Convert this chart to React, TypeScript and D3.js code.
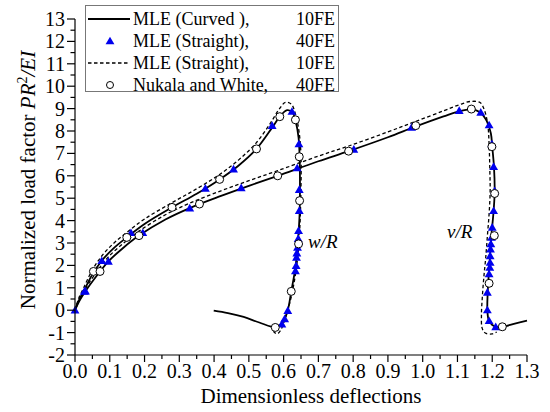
import * as d3 from "d3";

// tick values / labels
const xTicks = [0, 0.1, 0.2, 0.3, 0.4, 0.5, 0.6, 0.7, 0.8, 0.9, 1.0, 1.1, 1.2, 1.3];
const xTickLabels = ["0.0", "0.1", "0.2", "0.3", "0.4", "0.5", "0.6", "0.7", "0.8", "0.9", "1.0", "1.1", "1.2", "1.3"];
const yTicks = [-2, -1, 0, 1, 2, 3, 4, 5, 6, 7, 8, 9, 10, 11, 12, 13];

// MLE (Curved), 10FE  - solid
const wSolid: [number, number][] = [
  [0, 0], [0.01, 0.4], [0.025, 0.85], [0.05, 1.6], [0.077, 2.21], [0.11, 2.75], [0.149, 3.25],
  [0.2, 3.85], [0.279, 4.59], [0.35, 5.2], [0.416, 5.84], [0.47, 6.45], [0.522, 7.2], [0.567, 8.15],
  [0.589, 8.64], [0.61, 8.93], [0.626, 8.82], [0.636, 8.35], [0.643, 7.7], [0.646, 6.85],
  [0.647, 5.8], [0.646, 4.3], [0.642, 3.25], [0.634, 1.91], [0.622, 0.84], [0.612, 0.0],
  [0.6, -0.47], [0.585, -0.72], [0.576, -0.77], [0.53, -0.55], [0.485, -0.3], [0.44, -0.13], [0.399, -0.02],
];
const vSolid: [number, number][] = [
  [0, 0], [0.012, 0.4], [0.03, 0.85], [0.072, 1.73], [0.096, 2.18], [0.14, 2.8], [0.184, 3.33],
  [0.26, 4.05], [0.33, 4.56], [0.42, 5.1], [0.5, 5.55], [0.583, 6.0], [0.7, 6.65], [0.787, 7.1],
  [0.9, 7.72], [0.98, 8.2], [1.06, 8.65], [1.105, 8.88], [1.14, 8.96], [1.165, 8.84], [1.184, 8.45],
  [1.196, 7.9], [1.2, 7.3], [1.205, 6.4], [1.207, 5.3], [1.204, 4.44], [1.198, 3.4], [1.194, 2.5],
  [1.19, 1.6], [1.187, 0.8], [1.186, 0.0], [1.19, -0.45], [1.2, -0.66], [1.215, -0.74],
  [1.229, -0.74], [1.265, -0.6], [1.3, -0.47],
];

// MLE (Straight), 10FE - dashed
const wDashed: [number, number][] = [
  [0, 0], [0.01, 0.5], [0.025, 1.0], [0.05, 1.8], [0.077, 2.42], [0.11, 2.97], [0.149, 3.47],
  [0.2, 4.07], [0.279, 4.8], [0.35, 5.42], [0.416, 6.06], [0.47, 6.7], [0.52, 7.45], [0.56, 8.3],
  [0.585, 8.92], [0.605, 9.28], [0.622, 9.2], [0.635, 8.7], [0.645, 7.9], [0.65, 6.9],
  [0.65, 5.5], [0.648, 4.2], [0.644, 3.0], [0.636, 1.8], [0.622, 0.6], [0.605, -0.35],
  [0.592, -0.88], [0.582, -1.05], [0.572, -0.97], [0.569, -0.75],
];
const vDashed: [number, number][] = [
  [0, 0], [0.012, 0.48], [0.03, 0.97], [0.072, 1.92], [0.096, 2.38], [0.14, 3.0], [0.184, 3.53],
  [0.26, 4.26], [0.33, 4.78], [0.42, 5.33], [0.5, 5.78], [0.583, 6.23], [0.7, 6.88], [0.787, 7.33],
  [0.9, 7.96], [0.98, 8.43], [1.06, 8.9], [1.105, 9.17], [1.138, 9.32], [1.165, 9.27],
  [1.177, 8.95], [1.187, 8.3], [1.191, 7.4], [1.193, 6.3], [1.194, 5.3], [1.191, 4.3],
  [1.186, 3.3], [1.181, 2.3], [1.176, 1.5], [1.172, 0.7], [1.169, -0.2], [1.171, -0.8],
  [1.18, -1.02], [1.2, -1.06], [1.213, -0.97],
];

// MLE (Straight), 40FE - triangles
const wTri: [number, number][] = [
  [0, 0], [0.027, 0.84], [0.077, 2.21], [0.161, 3.46], [0.375, 5.44], [0.456, 6.3], [0.567, 8.24],
  [0.624, 8.87], [0.644, 7.42], [0.645, 5.38], [0.645, 4.45], [0.643, 3.55], [0.642, 3.2],
  [0.64, 2.8], [0.638, 2.55], [0.637, 2.36], [0.636, 1.99], [0.634, 1.76], [0.612, -0.02],
  [0.603, -0.39], [0.595, -0.62],
];
const vTri: [number, number][] = [
  [0.03, 0.85], [0.096, 2.18], [0.195, 3.46], [0.33, 4.56], [0.478, 5.46], [0.639, 6.35],
  [0.802, 7.18], [0.968, 8.16], [1.105, 8.91], [1.167, 8.83], [1.191, 8.27], [1.199, 7.42],
  [1.204, 6.41], [1.207, 5.33], [1.204, 4.44], [1.2, 3.7], [1.198, 3.25], [1.196, 2.96],
  [1.195, 2.73], [1.194, 2.43], [1.194, 2.13], [1.193, 1.91], [1.191, 1.62], [1.186, 0.8],
  [1.186, 0.01], [1.191, -0.47], [1.21, -0.74],
];

// Nukala and White, 40FE - circles
const wCirc: [number, number][] = [
  [0.053, 1.73], [0.149, 3.25], [0.279, 4.59], [0.416, 5.84], [0.522, 7.2], [0.589, 8.64],
  [0.634, 8.5], [0.645, 6.85], [0.646, 4.89], [0.643, 2.96], [0.622, 0.84], [0.576, -0.77],
];
const vCirc: [number, number][] = [
  [0.072, 1.73], [0.184, 3.33], [0.358, 4.74], [0.583, 6.0], [0.787, 7.1], [0.98, 8.24],
  [1.14, 8.98], [1.199, 7.3], [1.207, 5.21], [1.206, 3.33], [1.191, 1.2], [1.229, -0.74],
];

const legendRows = [
  { name: "MLE (Curved ),", fe: "10FE", kind: "solid" },
  { name: "MLE (Straight),", fe: "40FE", kind: "tri" },
  { name: "MLE (Straight),", fe: "10FE", kind: "dash" },
  { name: "Nukala and White,", fe: "40FE", kind: "circ" },
];

const FONT = "Liberation Serif, Times New Roman, serif";
const BLUE = "#0000ee";

export default function App() {
  const width = 550;
  const height = 412;

  const x = d3.scaleLinear().domain([0, 1.3]).range([75, 527]);
  const y = d3.scaleLinear().domain([-2, 13]).range([355, 19]);

  const line = d3.line<[number, number]>()
    .x(d => x(d[0]))
    .y(d => y(d[1]))
    .curve(d3.curveCatmullRom.alpha(0.5));

  const triPath = d3.symbol().type(d3.symbolTriangle).size(34)() as string;

  const xMinor = d3.range(0.05, 1.3, 0.1);
  const yMinor = d3.range(-1.5, 13, 1);

  const txt = { fontFamily: FONT };

  return (
    <svg width={width} height={height} style={{ position: "absolute", left: 0, top: 0, background: "#fff", fontFamily: FONT }}>
      {/* curves */}
      <g fill="none" stroke="#000">
        <path d={line(wDashed) as string} strokeWidth={1.3} strokeDasharray="3.5,2.5" />
        <path d={line(vDashed) as string} strokeWidth={1.3} strokeDasharray="3.5,2.5" />
        <path d={line(wSolid) as string} strokeWidth={1.8} />
        <path d={line(vSolid) as string} strokeWidth={1.8} />
      </g>

      {/* triangles */}
      <g fill={BLUE}>
        {[...wTri, ...vTri].map((d, i) => (
          <path key={i} d={triPath} transform={`translate(${x(d[0])},${y(d[1]) + 0.8})`} />
        ))}
      </g>

      {/* circles */}
      <g fill="#fff" stroke="#000" strokeWidth={1}>
        {[...wCirc, ...vCirc].map((d, i) => (
          <circle key={i} cx={x(d[0])} cy={y(d[1])} r={4} />
        ))}
      </g>

      {/* curve labels */}
      <text x={308} y={248} fontSize={19} fontStyle="italic" style={txt}>w/R</text>
      <text x={447} y={238} fontSize={19} fontStyle="italic" style={txt}>v/R</text>

      {/* axes */}
      <g stroke="#000" strokeWidth={1.2}>
        <line x1={x(0)} x2={x(0)} y1={y(-2)} y2={y(13)} />
        <line x1={x(0)} x2={x(1.3)} y1={y(-2)} y2={y(-2)} />
        {yTicks.map(t => (
          <line key={"yt" + t} x1={x(0) - 8} x2={x(0)} y1={y(t)} y2={y(t)} />
        ))}
        {yMinor.map(t => (
          <line key={"ym" + t} x1={x(0) - 4.5} x2={x(0)} y1={y(t)} y2={y(t)} />
        ))}
        {xTicks.map(t => (
          <line key={"xt" + t} x1={x(t)} x2={x(t)} y1={y(-2)} y2={y(-2) + 7} />
        ))}
        {xMinor.map(t => (
          <line key={"xm" + t} x1={x(t)} x2={x(t)} y1={y(-2)} y2={y(-2) + 4} />
        ))}
      </g>
      <g fontSize={20} fill="#000" style={txt}>
        {yTicks.map(t => (
          <text key={"yl" + t} x={x(0) - 10} y={y(t)} dy="0.35em" textAnchor="end" style={txt}>{String(t)}</text>
        ))}
        {xTicks.map((t, i) => (
          <text key={"xl" + t} x={x(t)} y={378} textAnchor="middle" style={txt}>{xTickLabels[i]}</text>
        ))}
      </g>

      {/* axis titles */}
      <text x={311} y={403} fontSize={21} textAnchor="middle" style={txt}>Dimensionless deflections</text>
      <text transform="translate(35,180) rotate(-90)" fontSize={21} textAnchor="middle" style={txt}>
        Normalized load factor <tspan fontStyle="italic">PR</tspan>
        <tspan fontSize={14} dy={-8}>2</tspan>
        <tspan fontStyle="italic" dy={8}>/EI</tspan>
      </text>

      {/* legend */}
      <g>
        <rect x={85.5} y={5.5} width={253} height={86} fill="#fff" stroke="#777" strokeWidth={1} />
        {legendRows.map((r, i) => {
          const cy = 19 + i * 22;
          return (
            <g key={i}>
              {r.kind === "solid" && <line x1={88} x2={130} y1={cy} y2={cy} stroke="#000" strokeWidth={2} />}
              {r.kind === "dash" && <line x1={88} x2={130} y1={cy} y2={cy} stroke="#000" strokeWidth={1.3} strokeDasharray="3.5,2.5" />}
              {r.kind === "tri" && <path d={triPath} transform={`translate(110,${cy + 0.8})`} fill={BLUE} />}
              {r.kind === "circ" && <circle cx={110} cy={cy} r={3.5} fill="#fff" stroke="#000" />}
              <text x={133} y={cy} dy="0.35em" fontSize={18} style={txt}>{r.name}</text>
              <text x={335} y={cy} dy="0.35em" fontSize={18} textAnchor="end" style={txt}>{r.fe}</text>
            </g>
          );
        })}
      </g>
    </svg>
  );
}
